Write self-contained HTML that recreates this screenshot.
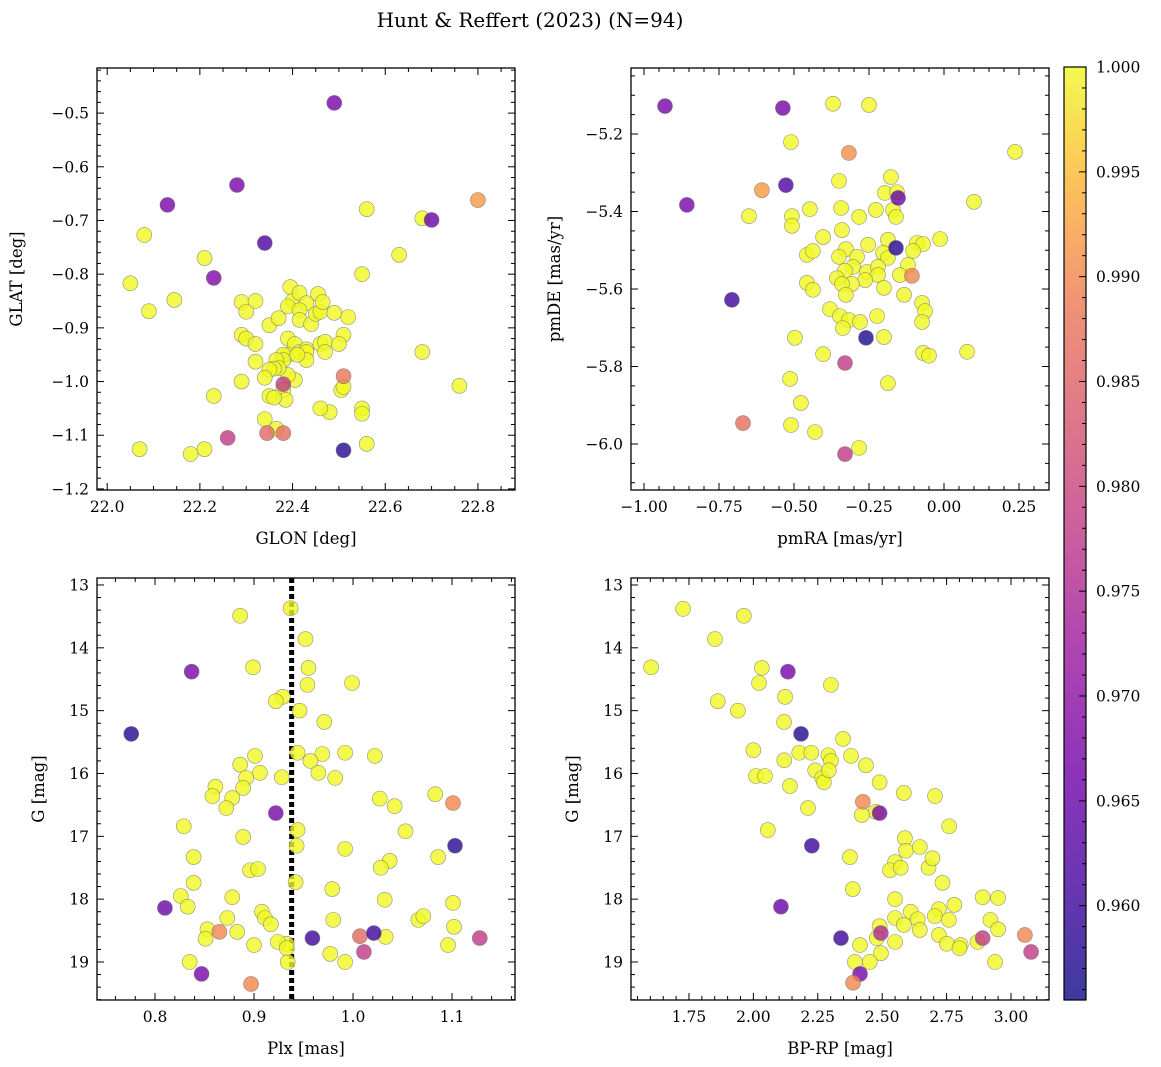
<!DOCTYPE html>
<html><head><meta charset="utf-8"><style>
html,body{margin:0;padding:0;background:#fff;}
svg{display:block;font-family:"DejaVu Serif","Liberation Serif",serif;}
</style></head><body>
<svg id="fig" width="1161" height="1067" viewBox="0 0 1161 1067" xmlns="http://www.w3.org/2000/svg">
<text x="530" y="27" font-size="20" text-anchor="middle">Hunt &amp; Reffert (2023) (N=94)</text>
<defs><linearGradient id="plasma" x1="0" y1="1" x2="0" y2="0">
<stop offset="0" stop-color="#0d0887"/><stop offset="0.13" stop-color="#47039f"/><stop offset="0.25" stop-color="#7301a8"/><stop offset="0.38" stop-color="#9c179e"/><stop offset="0.5" stop-color="#bd3786"/><stop offset="0.63" stop-color="#d8576b"/><stop offset="0.75" stop-color="#ed7953"/><stop offset="0.88" stop-color="#fdb42f"/><stop offset="1" stop-color="#f0f921"/></linearGradient></defs>
</svg>
<script>
// ---- data ----
const p1_glon=[22.49,22.28,22.13,22.34,22.23,22.70,22.80,22.51,22.38,22.26,22.345,22.38,22.51,
22.05,22.08,22.09,22.145,22.21,22.07,22.18,22.21,22.23,22.29,22.29,22.29,22.32,22.30,22.30,22.32,22.32,22.34,22.35,22.35,22.37,22.395,22.40,22.39,22.415,22.43,22.415,22.415,22.44,22.45,22.455,22.46,22.39,22.405,22.39,22.38,22.415,22.43,22.43,22.43,22.405,22.39,22.38,22.365,22.37,22.36,22.38,22.385,22.41,22.35,22.36,22.34,22.365,22.465,22.46,22.47,22.49,22.52,22.51,22.56,22.55,22.48,22.505,22.46,22.50,22.47,22.55,22.55,22.56,22.51,22.68,22.63,22.68,22.76];
const p1_glat=[-0.481,-0.634,-0.671,-0.742,-0.807,-0.699,-0.662,-0.990,-1.005,-1.105,-1.096,-1.096,-1.128,
-0.817,-0.727,-0.869,-0.848,-0.77,-1.126,-1.135,-1.126,-1.027,-1.0,-0.913,-0.852,-0.85,-0.87,-0.92,-0.93,-0.963,-1.07,-1.027,-0.895,-0.882,-0.824,-0.85,-0.86,-0.835,-0.854,-0.867,-0.885,-0.893,-0.874,-0.837,-0.87,-0.92,-0.93,-0.95,-0.95,-0.945,-0.94,-0.945,-0.96,-0.997,-0.988,-0.96,-0.96,-0.975,-0.976,-1.016,-1.034,-0.95,-0.978,-1.03,-0.993,-1.088,-0.852,-0.93,-0.926,-0.872,-0.88,-0.913,-0.679,-0.8,-1.057,-1.016,-1.05,-0.93,-0.945,-1.05,-1.06,-1.116,-1.01,-0.696,-0.764,-0.945,-1.008];
const p1_prob=[0.967,0.967,0.967,0.962,0.968,0.965,0.992,0.988,0.978,0.978,0.986,0.987,0.958];

const p2_pmra=[-0.93,-0.537,-0.857,-0.527,-0.607,-0.317,-0.707,-0.67,-0.33,-0.33,-0.26,-0.153,-0.16,-0.107,
-0.35,-0.177,-0.197,-0.157,-0.447,-0.343,-0.283,-0.227,-0.17,-0.16,-0.507,-0.507,-0.34,-0.403,-0.253,-0.187,-0.09,-0.07,-0.013,-0.457,-0.437,-0.327,-0.35,-0.29,-0.203,-0.187,-0.103,-0.12,-0.147,-0.303,-0.33,-0.357,-0.257,-0.22,-0.22,-0.263,-0.307,-0.34,-0.327,-0.2,-0.457,-0.437,-0.133,-0.073,-0.063,-0.073,-0.38,-0.347,-0.317,-0.28,-0.337,-0.223,-0.2,-0.497,-0.403,-0.07,0.077,-0.37,-0.25,-0.51,-0.65,-0.513,-0.51,-0.43,-0.477,-0.283,0.1,0.237,-0.187,-0.05];
const p2_pmde=[-5.128,-5.133,-5.383,-5.332,-5.345,-5.249,-5.628,-5.946,-6.026,-5.791,-5.726,-5.365,-5.494,-5.566,
-5.321,-5.311,-5.352,-5.35,-5.394,-5.391,-5.414,-5.396,-5.396,-5.414,-5.412,-5.437,-5.448,-5.466,-5.486,-5.473,-5.481,-5.484,-5.471,-5.512,-5.502,-5.497,-5.517,-5.517,-5.507,-5.52,-5.502,-5.538,-5.564,-5.543,-5.553,-5.572,-5.556,-5.543,-5.564,-5.577,-5.587,-5.587,-5.615,-5.597,-5.584,-5.602,-5.615,-5.636,-5.657,-5.685,-5.652,-5.67,-5.68,-5.685,-5.701,-5.67,-5.724,-5.726,-5.768,-5.765,-5.762,-5.122,-5.125,-5.221,-5.412,-5.832,-5.951,-5.969,-5.894,-6.01,-5.375,-5.246,-5.843,-5.772];
const p2_prob=[0.967,0.967,0.967,0.962,0.992,0.991,0.960,0.987,0.978,0.978,0.957,0.965,0.958,0.990];

const p3_plx=[0.776,0.837,0.922,0.81,0.847,0.865,0.897,0.959,1.007,1.011,1.021,1.101,1.103,1.128,
0.886,0.937,0.952,0.899,0.955,0.954,0.999,0.929,0.922,0.946,0.971,0.944,0.901,0.886,0.969,0.957,0.992,1.022,0.965,0.982,0.928,0.906,0.892,0.889,0.861,0.858,0.878,0.872,1.027,1.042,1.083,1.053,0.944,0.889,0.829,0.943,0.992,0.839,1.086,1.037,1.028,0.896,0.904,0.839,0.979,0.878,0.826,0.942,1.032,1.101,0.833,0.908,0.911,0.873,0.917,0.853,0.851,0.883,0.9,0.933,0.924,0.98,1.033,1.066,1.071,1.102,1.096,0.835,0.934,0.992,0.977,0.933];
const p3_g=[15.37,14.38,16.63,18.14,19.19,18.52,19.35,18.62,18.59,18.84,18.54,16.47,17.15,18.62,
13.49,13.37,13.86,14.31,14.32,14.59,14.56,14.78,14.85,15.0,15.18,15.67,15.72,15.86,15.69,15.8,15.67,15.72,15.99,16.07,16.06,15.99,16.07,16.23,16.21,16.36,16.39,16.55,16.4,16.52,16.33,16.92,16.9,17.01,16.84,17.15,17.2,17.33,17.33,17.39,17.5,17.54,17.52,17.74,17.84,17.97,17.95,17.73,18.01,18.06,18.12,18.2,18.3,18.3,18.4,18.48,18.63,18.52,18.73,18.71,18.68,18.33,18.6,18.33,18.27,18.44,18.73,19.0,19.0,19.0,18.87,18.78];
const p3_prob=[0.958,0.967,0.967,0.965,0.967,0.99,0.99,0.96,0.986,0.978,0.96,0.99,0.958,0.978];

const p4_bprp=[2.134,2.185,2.227,2.107,2.34,2.425,2.49,2.495,2.414,2.387,2.89,3.054,3.078,
1.603,1.727,1.851,1.963,1.862,1.94,2.033,2.022,2.123,2.301,2.119,2.0,2.178,2.225,2.291,2.301,2.12,2.01,2.045,2.24,2.267,2.274,2.348,2.379,2.293,2.437,2.49,2.142,2.212,2.475,2.584,2.421,2.056,2.588,2.592,2.646,2.705,2.76,2.375,2.55,2.53,2.572,2.68,2.695,2.386,2.734,2.89,2.95,2.55,2.611,2.72,2.78,2.55,2.638,2.704,2.759,2.49,2.584,2.479,2.646,2.72,2.805,2.751,2.87,2.92,2.95,2.55,2.414,2.495,2.394,2.452,2.938,2.8];
const p4_g=[14.38,15.37,17.15,18.12,18.62,16.45,16.63,18.54,19.19,19.33,18.62,18.57,18.84,
14.31,13.38,13.86,13.49,14.85,15.0,14.32,14.56,14.78,14.59,15.18,15.63,15.67,15.67,15.71,15.8,15.79,16.04,16.04,15.95,16.07,16.14,15.45,15.72,15.95,15.87,16.14,16.2,16.55,16.61,16.31,16.66,16.9,17.03,17.23,17.17,16.36,16.84,17.33,17.41,17.54,17.5,17.5,17.35,17.84,17.74,17.97,17.98,18.0,18.2,18.16,18.09,18.3,18.32,18.27,18.33,18.43,18.41,18.62,18.49,18.57,18.73,18.71,18.68,18.33,18.48,18.68,18.73,18.86,19.0,19.0,19.0,18.78];
const p4_prob=[0.967,0.958,0.96,0.965,0.96,0.99,0.967,0.975,0.967,0.99,0.978,0.99,0.978];

const cbTicks=[0.960,0.965,0.970,0.975,0.980,0.985,0.990,0.995,1.000];

// ---- rendering ----
const NS='http://www.w3.org/2000/svg';
const svg=document.getElementById('fig');
function el(tag,attrs,parent){const e=document.createElementNS(NS,tag);for(const k in attrs)e.setAttribute(k,attrs[k]);(parent||svg).appendChild(e);return e;}
const stops=[[0,[13,8,135]],[0.13,[71,3,159]],[0.25,[115,1,168]],[0.38,[156,23,158]],[0.5,[189,55,134]],[0.63,[216,87,107]],[0.75,[237,121,83]],[0.88,[253,180,47]],[1,[240,249,33]]];
const CMIN=0.9555,CMAX=1.0;
function cmap(v){let t=(v-CMIN)/(CMAX-CMIN);t=Math.max(0,Math.min(1,t));for(let i=1;i<stops.length;i++){if(t<=stops[i][0]){const a=stops[i-1],b=stops[i];const f=(t-a[0])/(b[0]-a[0]);const c=a[1].map((x,j)=>Math.round(x+(b[1][j]-x)*f));return 'rgb('+c.join(',')+')';}}return 'rgb(240,249,33)';}

function panel(cfg){
  const g=el('g',{});
  
  
  const {x0,x1,y0,y1}=cfg.box;
  const sx=v=>x0+(v-cfg.xr[0])/(cfg.xr[1]-cfg.xr[0])*(x1-x0);
  const sy=v=>y0+(v-cfg.yr[0])/(cfg.yr[1]-cfg.yr[0])*(y1-y0);
  if(cfg.vline!==undefined){
    const l=el('line',{x1:sx(cfg.vline),x2:sx(cfg.vline),y1:y0,y2:y1,stroke:'#000','stroke-width':5,'stroke-dasharray':'5,3'},g);
    
    
  }
  const pts=el('g',{},g);
  
  
  const n=cfg.xs.length;
  const order=[];for(let i=cfg.probs.length;i<n;i++)order.push(i);for(let i=0;i<cfg.probs.length;i++)order.push(i);
  order.forEach(i=>{
    const p=i<cfg.probs.length?cfg.probs[i]:1.0;
    const c=el('circle',{cx:sx(cfg.xs[i]),cy:sy(cfg.ys[i]),r:7.5,fill:cmap(p),'fill-opacity':0.8,stroke:'#777','stroke-width':0.6,'stroke-opacity':0.8},pts);
    
    
  });
  const fr=el('rect',{x:x0,y:y0,width:x1-x0,height:y1-y0,fill:'none',stroke:'#000','stroke-width':1.3},g);
  
  
  const tk=el('g',{stroke:'#000','stroke-width':1},g);
  const eps=1e-9;
  const xa=Math.min(cfg.xr[0],cfg.xr[1]),xb=Math.max(cfg.xr[0],cfg.xr[1]);
  for(let v=Math.ceil(xa/cfg.xmin-eps)*cfg.xmin;v<=xb+eps;v+=cfg.xmin){
    const major=Math.abs(v/cfg.xmaj-Math.round(v/cfg.xmaj))<1e-6;const L=major?7:4;const X=sx(v);
    el('line',{x1:X,x2:X,y1:y1,y2:y1-L},tk);el('line',{x1:X,x2:X,y1:y0,y2:y0+L},tk);
  }
  const ya=Math.min(cfg.yr[0],cfg.yr[1]),yb=Math.max(cfg.yr[0],cfg.yr[1]);
  for(let v=Math.ceil(ya/cfg.ymin-eps)*cfg.ymin;v<=yb+eps;v+=cfg.ymin){
    const major=Math.abs(v/cfg.ymaj-Math.round(v/cfg.ymaj))<1e-6;const L=major?7:4;const Y=sy(v);
    el('line',{x1:x0,x2:x0+L,y1:Y,y2:Y},tk);el('line',{x1:x1,x2:x1-L,y1:Y,y2:Y},tk);
  }
  cfg.xticks.forEach(v=>{const t=el('text',{x:sx(v),y:y1+22,'font-size':15.5,'text-anchor':'middle'},g);t.textContent=(v<0?'\u2212':'')+Math.abs(v).toFixed(cfg.xdec);
    });
  cfg.yticks.forEach(v=>{const t=el('text',{x:x0-8,y:sy(v)+5.5,'font-size':15.5,'text-anchor':'end'},g);t.textContent=(v<0?'\u2212':'')+Math.abs(v).toFixed(cfg.ydec);
    });
  const xl=el('text',{x:(x0+x1)/2,y:y1+54,'font-size':16.5,'text-anchor':'middle'},g);xl.textContent=cfg.xlabel;
  
  const yx=cfg.ylx;const yy=(y0+y1)/2;
  const yl=el('text',{x:yx,y:yy,'font-size':16.5,'text-anchor':'middle',transform:`rotate(-90 ${yx} ${yy})`},g);yl.textContent=cfg.ylabel;
  
}

panel({name:'glon-glat-panel',box:{x0:97,x1:515,y0:68,y1:490},xr:[21.978,22.88],yr:[-0.416,-1.202],xs:p1_glon,ys:p1_glat,probs:p1_prob,
  xmaj:0.2,xmin:0.05,ymaj:0.1,ymin:0.02,xticks:[22.0,22.2,22.4,22.6,22.8],yticks:[-0.5,-0.6,-0.7,-0.8,-0.9,-1.0,-1.1,-1.2],xdec:1,ydec:1,xlabel:'GLON [deg]',ylabel:'GLAT [deg]',ylx:22});
panel({name:'proper-motion-panel',box:{x0:631,x1:1049,y0:68,y1:490},xr:[-1.0433,0.35],yr:[-5.0297,-6.1187],xs:p2_pmra,ys:p2_pmde,probs:p2_prob,
  xmaj:0.25,xmin:0.05,ymaj:0.2,ymin:0.05,xticks:[-1.0,-0.75,-0.5,-0.25,0,0.25],yticks:[-5.2,-5.4,-5.6,-5.8,-6.0],xdec:2,ydec:1,xlabel:'pmRA [mas/yr]',ylabel:'pmDE [mas/yr]',ylx:560});
panel({name:'parallax-magnitude-panel',box:{x0:97,x1:515,y0:578,y1:1000},xr:[0.7414,1.1636],yr:[12.889,19.605],xs:p3_plx,ys:p3_g,probs:p3_prob,vline:0.938,
  xmaj:0.1,xmin:0.02,ymaj:1,ymin:0.2,xticks:[0.8,0.9,1.0,1.1],yticks:[13,14,15,16,17,18,19],xdec:1,ydec:0,xlabel:'Plx [mas]',ylabel:'G [mag]',ylx:44});
panel({name:'color-magnitude-panel',box:{x0:631,x1:1049,y0:578,y1:1000},xr:[1.525,3.1475],yr:[12.889,19.605],xs:p4_bprp,ys:p4_g,probs:p4_prob,
  xmaj:0.25,xmin:0.05,ymaj:1,ymin:0.2,xticks:[1.75,2.0,2.25,2.5,2.75,3.0],yticks:[13,14,15,16,17,18,19],xdec:2,ydec:0,xlabel:'BP-RP [mag]',ylabel:'G [mag]',ylx:578});

// colorbar
const cb=el('g',{});


const CB={x0:1064,x1:1086,y0:67,y1:1000};
const cy=v=>CB.y1-(v-CMIN)/(CMAX-CMIN)*(CB.y1-CB.y0);
el('rect',{x:CB.x0,y:CB.y0,width:CB.x1-CB.x0,height:CB.y1-CB.y0,fill:'url(#plasma)','fill-opacity':0.8},cb);
el('rect',{x:CB.x0,y:CB.y0,width:CB.x1-CB.x0,height:CB.y1-CB.y0,fill:'none',stroke:'#000','stroke-width':1.2},cb);
for(let k=956;k<=1000;k++){const v=k/1000;const major=k%5===0;const Y=cy(v);
  el('line',{x1:CB.x1,x2:CB.x1-(major?7:4),y1:Y,y2:Y,stroke:'#000','stroke-width':1},cb);}
cbTicks.forEach(v=>{const t=el('text',{x:CB.x1+10,y:cy(v)+5.5,'font-size':15.5},cb);t.textContent=v.toFixed(3);
  });
</script>
</body></html>
